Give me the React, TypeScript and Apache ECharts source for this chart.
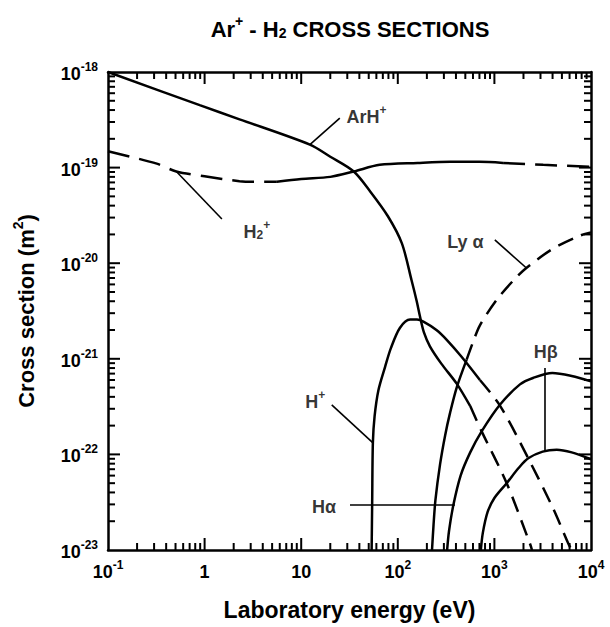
import React, { useEffect, useRef } from "react";
import * as echarts from "echarts";

const FONT = '"Liberation Sans", Arial, Helvetica, sans-serif';

// ---- axis ticks / labels ----
const xMajor = [0.1, 1, 10, 100, 1000, 10000];
const xLabels = ["{b|10}{s|-1}", "{b|1}", "{b|10}", "{b|10}{s|2}", "{b|10}{s|3}", "{b|10}{s|4}"];
const yMajor = [1e-23, 1e-22, 1e-21, 1e-20, 1e-19, 1e-18];
const yLabels = ["{b|10}{s|-23}", "{b|10}{s|-22}", "{b|10}{s|-21}", "{b|10}{s|-20}", "{b|10}{s|-19}", "{b|10}{s|-18}"];

// ---- ArH+ ----
const arhSolidE = [0.1, 0.89, 2.3, 12.3, 20, 35, 52, 79, 110, 139, 157, 170, 186, 215, 282, 407, 562];
const arhSolidS = [1.0e-18, 4.5e-19, 3.2e-19, 1.74e-19, 1.3e-19, 9.1e-20, 5.6e-20, 3.1e-20, 1.62e-20, 6.6e-21, 4.0e-21, 2.75e-21, 1.9e-21, 1.35e-21, 8.9e-22, 5.5e-22, 3.2e-22];
const arhDashE = [562, 738, 1340, 2330, 2450];
const arhDashS = [3.2e-22, 1.74e-22, 5.0e-23, 1.17e-23, 1.0e-23];

// ---- H2+ ----
const h2LowE = [0.1, 0.32, 0.51, 1, 2.3, 3.2, 5.6];
const h2LowS = [1.48e-19, 1.1e-19, 9.1e-20, 8.1e-20, 7.2e-20, 7.1e-20, 7.1e-20];
const h2MidE = [5.6, 10, 20, 35, 65, 160, 350, 700, 1230];
const h2MidS = [7.1e-20, 7.6e-20, 8.0e-20, 9.1e-20, 1.07e-19, 1.12e-19, 1.15e-19, 1.15e-19, 1.12e-19];
const h2HighE = [1230, 3200, 10000];
const h2HighS = [1.12e-19, 1.07e-19, 1.02e-19];

// ---- H+ ----
const hpSolidE = [53.6, 54.3, 55.2, 57.5, 63, 74, 85, 105, 134, 158, 184, 251, 321, 457, 708];
const hpSolidS = [1e-23, 3.2e-23, 1.32e-22, 2.5e-22, 4.7e-22, 8.3e-22, 1.3e-21, 2.1e-21, 2.57e-21, 2.57e-21, 2.45e-21, 2.0e-21, 1.58e-21, 1.05e-21, 6.0e-22];
const hpDashE = [708, 1150, 2240, 4000, 5820, 6300];
const hpDashS = [6.0e-22, 3.2e-22, 9.1e-23, 2.8e-23, 1.17e-23, 1.0e-23];

// ---- Ly alpha ----
const lyaSolidE = [226, 234, 245, 274, 309, 347, 407, 516];
const lyaSolidS = [1e-23, 1.78e-23, 3.3e-23, 7.9e-23, 1.58e-22, 2.7e-22, 5.0e-22, 9.8e-22];
const lyaDashE = [516, 603, 708, 1050, 1570, 2140, 4000, 7760, 10000];
const lyaDashS = [9.8e-22, 1.51e-21, 2.24e-21, 4.1e-21, 6.6e-21, 8.9e-21, 1.41e-20, 1.95e-20, 2.1e-20];

// ---- H alpha ----
const haE = [324, 339, 376, 447, 562, 738, 1140, 1840, 2510, 3980, 6310, 10000];
const haS = [1e-23, 1.58e-23, 2.95e-23, 6.0e-23, 1.05e-22, 1.74e-22, 3.3e-22, 5.4e-22, 6.3e-22, 7.1e-22, 6.6e-22, 5.8e-22];

// ---- H beta ----
const hbE = [724, 759, 851, 1000, 1340, 1780, 2240, 3160, 4420, 6310, 10000];
const hbS = [1e-23, 1.51e-23, 2.5e-23, 3.5e-23, 5.0e-23, 7.2e-23, 9.1e-23, 1.07e-22, 1.12e-22, 1.05e-22, 8.9e-23];

// ---- leader lines (data coordinates) ----
const arhLeaderE = [25.1, 12.3];
const arhLeaderS = [3.3e-19, 1.74e-19];
const h2LeaderE = [0.51, 1.51];
const h2LeaderS = [9.1e-20, 2.9e-20];
const hpLeaderE = [20.7, 55.7];
const hpLeaderS = [3.3e-22, 1.31e-22];
const haLeaderE = [32, 391];
const haLeaderS = [2.96e-23, 2.96e-23];
const hbLeaderE = [3340, 3340];
const hbLeaderS = [8.0e-22, 1.07e-22];
const lyaLeaderE = [1010, 2160];
const lyaLeaderS = [1.75e-20, 8.85e-21];

// ---- curve labels ----
const labelTexts = ["{b|ArH}{s|+}", "{b|H}{u|2}{s|+}", "{b|H}{s|+}", "{b|H\u03b1}", "{b|H\u03b2}", "{b|Ly \u03b1}"];
const labelE = [29.1, 2.5, 10.9, 12.8, 2530, 321];
const labelS = [3.55e-19, 2.24e-20, 3.7e-22, 2.96e-23, 1.23e-21, 1.75e-20];

const X_MIN = 0.1;
const X_MAX = 10000;
const Y_MIN = 1e-23;
const Y_MAX = 1e-18;

// layout
const GRID = { left: 108, right: 19, top: 72, bottom: 77 };
const CW = 610;
const CH = 627;
const PLOT_W = CW - GRID.left - GRID.right;
const PLOT_H = CH - GRID.top - GRID.bottom;
const MAJOR_LEN = 12;
const MINOR_LEN = 7;
const TICK_W = 2;

const minorValues = (lo: number, hi: number) => {
  const out: number[] = [];
  for (let k = lo; k < hi; k++) for (let m = 2; m <= 9; m++) out.push(Number((m * Math.pow(10, k)).toPrecision(4)));
  return out;
};
const xMinor = minorValues(-1, 4);
const yMinor = minorValues(-23, -18);

// log-axis position of a tick value inside the grid
const tickX = (v: number) => GRID.left + ((Math.log10(v) - Math.log10(X_MIN)) / (Math.log10(X_MAX) - Math.log10(X_MIN))) * PLOT_W;
const tickY = (v: number) => GRID.top + ((Math.log10(Y_MAX) - Math.log10(v)) / (Math.log10(Y_MAX) - Math.log10(Y_MIN))) * PLOT_H;

const pair = (e: number[], s: number[]) => e.map((v, i) => [v, s[i]]);

const W = "bold";
const rich = {
  b: { fontSize: 18, fontWeight: W, lineHeight: 22, verticalAlign: "bottom", fontFamily: FONT, color: "#000" },
  s: { fontSize: 12, fontWeight: W, lineHeight: 12, verticalAlign: "top", fontFamily: FONT, color: "#000" },
  u: { fontSize: 12, fontWeight: W, lineHeight: 10, verticalAlign: "bottom", fontFamily: FONT, color: "#000" },
};

function curve(e: number[], s: number[], dash: number[] | null) {
  return {
    type: "line",
    data: pair(e, s),
    symbol: "none",
    showSymbol: false,
    smooth: 0.3,
    clip: true,
    silent: true,
    lineStyle: { color: "#000", width: 2.5, type: dash ? dash : "solid", cap: "butt" },
    z: 3,
  };
}

function leader(e: number[], s: number[]) {
  return {
    type: "line",
    data: pair(e, s),
    symbol: "none",
    showSymbol: false,
    silent: true,
    lineStyle: { color: "#000", width: 1.6 },
    z: 3,
  };
}

function makeAxis(min: number, max: number, position: string, label: any) {
  return {
    type: "log",
    logBase: 10,
    min,
    max,
    gridIndex: 0,
    position,
    silent: true,
    splitLine: { show: false },
    minorTick: { show: false },
    minorSplitLine: { show: false },
    axisLine: { show: true, onZero: false, lineStyle: { color: "#000", width: 2.5 } },
    axisTick: { show: false },
    axisLabel: label ? label : { show: false },
  };
}

// inward tick marks on all four sides, drawn as thin filled rects
function buildTicks() {
  const fill = { fill: "#000" };
  const out: any[] = [];
  const top = GRID.top;
  const bottom = CH - GRID.bottom;
  const left = GRID.left;
  const right = CW - GRID.right;
  const h = TICK_W / 2;
  const addX = (v: number, len: number) => {
    const x = tickX(v);
    out.push({ type: "rect", silent: true, z: 50, shape: { x: x - h, y: bottom - len, width: TICK_W, height: len }, style: fill });
    out.push({ type: "rect", silent: true, z: 50, shape: { x: x - h, y: top, width: TICK_W, height: len }, style: fill });
  };
  const addY = (v: number, len: number) => {
    const y = tickY(v);
    out.push({ type: "rect", silent: true, z: 50, shape: { x: left, y: y - h, width: len, height: TICK_W }, style: fill });
    out.push({ type: "rect", silent: true, z: 50, shape: { x: right - len, y: y - h, width: len, height: TICK_W }, style: fill });
  };
  xMajor.slice(1, -1).forEach((v) => addX(v, MAJOR_LEN));
  xMinor.forEach((v) => addX(v, MINOR_LEN));
  yMajor.slice(1, -1).forEach((v) => addY(v, MAJOR_LEN));
  yMinor.forEach((v) => addY(v, MINOR_LEN));
  return out;
}

export default function App() {
  const ref = useRef<HTMLDivElement>(null);
  useEffect(() => {
    if (!ref.current) return;
    const chart = echarts.init(ref.current, null, { renderer: "svg" });
    const xLabelCfg = {
      show: true,
      customValues: xMajor,
      formatter: (v: number) => xLabels[Math.round(Math.log10(v)) + 1],
      margin: 9,
      showMinLabel: true,
      showMaxLabel: true,
      hideOverlap: false,
      rich,
    };
    const yLabelCfg = {
      show: true,
      customValues: yMajor,
      formatter: (v: number) => yLabels[Math.round(Math.log10(v)) + 23],
      margin: 10,
      showMinLabel: true,
      showMaxLabel: true,
      hideOverlap: false,
      rich,
    };
    const xBottom: any = makeAxis(X_MIN, X_MAX, "bottom", xLabelCfg);
    xBottom.name = "Laboratory energy (eV)";
    xBottom.nameLocation = "middle";
    xBottom.nameGap = 48;
    xBottom.nameTextStyle = { fontFamily: FONT, fontSize: 23, fontWeight: W, color: "#000" };
    const yLeft: any = makeAxis(Y_MIN, Y_MAX, "left", yLabelCfg);
    yLeft.name = "{n|Cross section (m}{ns|2}{n|)}";
    yLeft.nameLocation = "middle";
    yLeft.nameGap = 71;
    yLeft.nameRotate = 90;
    yLeft.nameTextStyle = {
      fontFamily: FONT,
      fontSize: 22,
      fontWeight: W,
      color: "#000",
      rich: {
        n: { fontFamily: FONT, fontSize: 22, fontWeight: W, lineHeight: 26, verticalAlign: "bottom", color: "#000" },
        ns: { fontFamily: FONT, fontSize: 14, fontWeight: W, lineHeight: 14, verticalAlign: "top", color: "#000" },
      },
    };

    const titleGraphic = {
      type: "text",
      x: 350,
      y: 27,
      silent: true,
      style: {
        text: "{t|Ar}{ts|+}{t| - H}{tu|2}{t| CROSS SECTIONS}",
        align: "center",
        verticalAlign: "middle",
        fill: "#000",
        rich: {
          t: { fontFamily: FONT, fontSize: 22, fontWeight: W, lineHeight: 26, verticalAlign: "bottom", fill: "#000" },
          ts: { fontFamily: FONT, fontSize: 14, fontWeight: W, lineHeight: 14, verticalAlign: "top", fill: "#000" },
          tu: { fontFamily: FONT, fontSize: 14, fontWeight: W, lineHeight: 11, verticalAlign: "bottom", fill: "#000" },
        },
      },
    };

    const option: any = {
      animation: false,
      backgroundColor: "#fff",
      grid: { ...GRID, containLabel: false },
      xAxis: [xBottom, makeAxis(X_MIN, X_MAX, "top", null)],
      yAxis: [yLeft, makeAxis(Y_MIN, Y_MAX, "right", null)],
      graphic: [titleGraphic, ...buildTicks()],
      series: [
        curve(arhSolidE, arhSolidS, null),
        curve(arhDashE, arhDashS, [16, 9]),
        curve(h2LowE, h2LowS, [22, 10]),
        curve(h2MidE, h2MidS, null),
        curve(h2HighE, h2HighS, [22, 10]),
        curve(hpSolidE, hpSolidS, null),
        curve(hpDashE, hpDashS, [16, 9]),
        curve(lyaSolidE, lyaSolidS, null),
        curve(lyaDashE, lyaDashS, [16, 9]),
        curve(haE, haS, null),
        curve(hbE, hbS, null),
        leader(arhLeaderE, arhLeaderS),
        leader(h2LeaderE, h2LeaderS),
        leader(hpLeaderE, hpLeaderS),
        leader(haLeaderE, haLeaderS),
        leader(hbLeaderE, hbLeaderS),
        leader(lyaLeaderE, lyaLeaderS),
        {
          type: "scatter",
          silent: true,
          symbolSize: 1,
          itemStyle: { color: "rgba(0,0,0,0)" },
          data: labelTexts.map((t, i) => ({ value: [labelE[i], labelS[i]], label: { formatter: t } })),
          label: { show: true, position: "right", distance: 0, rich, fontFamily: FONT, fontSize: 18, fontWeight: W, color: "#000" },
          z: 4,
        },
      ],
    };
    try {
      chart.setOption(option);
    } catch (e) {
      // keep whatever was drawn
    }
    return () => chart.dispose();
  }, []);
  return (
    <div
      ref={ref}
      style={{ position: "absolute", left: 0, top: 0, width: CW, height: CH, background: "#fff" }}
    />
  );
}
